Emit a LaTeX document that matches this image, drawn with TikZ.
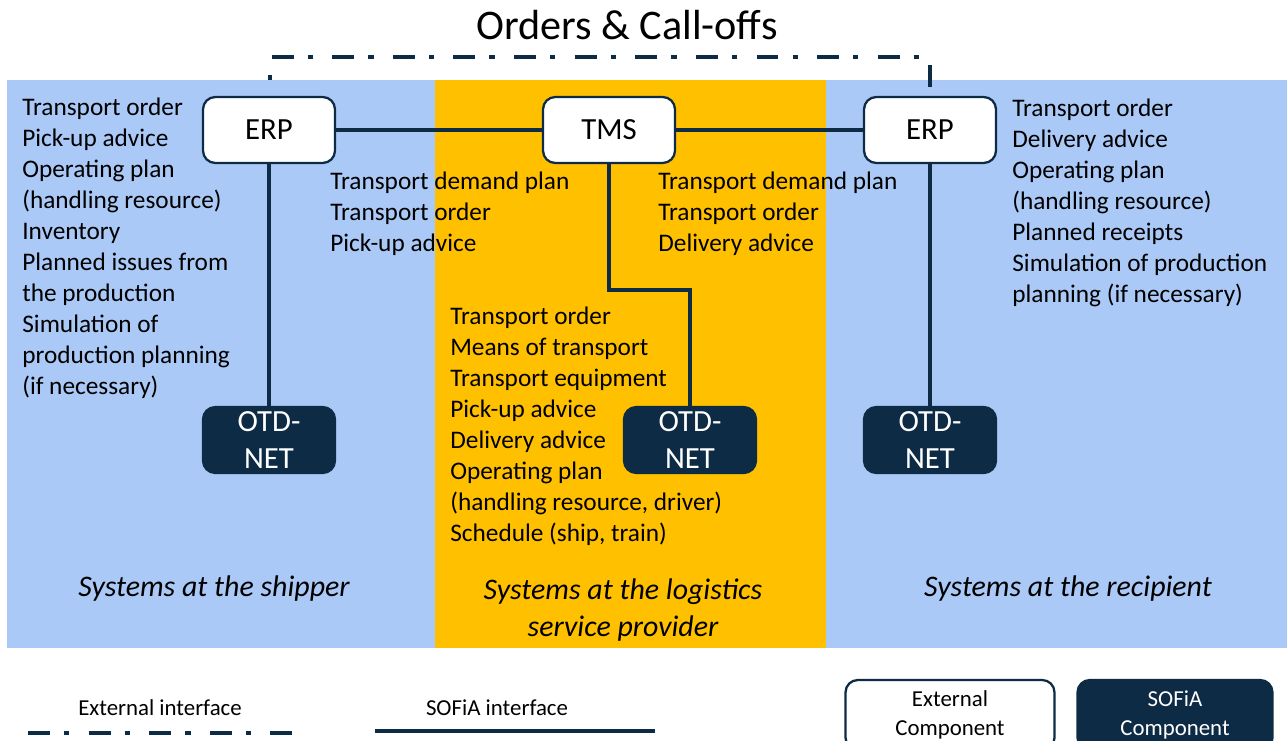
\documentclass[tikz,border=0pt]{standalone}
\usepackage{fontspec}
\setmainfont{Carlito}
\usetikzlibrary{positioning}
\definecolor{CNavy}{HTML}{0D2B45}
\definecolor{CSky}{HTML}{ABC9F6}
\definecolor{CAmber}{HTML}{FFC000}

\begin{document}
\begin{tikzpicture}[x=0.02cm, y=-0.02cm,
    extbox/.style={draw=CNavy, line width=1.3pt, fill=white, rounded corners=7pt, minimum width=2.64cm, minimum height=1.32cm, inner sep=0pt, align=center, font=\fontsize{17.5}{21}\selectfont},
    sofbox/.style={extbox, fill=CNavy, text=white},
    sofia/.style={draw=CNavy, line width=2.8pt},
    extlink/.style={draw=CNavy, line width=2.8pt, dash pattern=on 12.5pt off 8pt on 3pt off 11pt},
    infolist/.style={anchor=north west, inner sep=0pt, align=left, font=\fontsize{14.4}{17.6}\selectfont},
    sysname/.style={align=center, font=\fontsize{17}{21}\selectfont\itshape},
    legendtxt/.style={font=\fontsize{13}{16.5}\selectfont}]
    \useasboundingbox (0,0) rectangle (1287,740);

    % Panels
    \fill[CSky] (7,80) rectangle (435,648);
    \fill[CAmber] (435,80) rectangle (826,648);
    \fill[CSky] (826,80) rectangle (1287,648);

    \node[font=\fontsize{24}{28}\selectfont] (title) at (627,25) {Orders \& Call-offs};

    % Components
    \node[extbox] (erpL) at (269,130) {ERP};
    \node[extbox] (tms) at (609,130) {TMS};
    \node[extbox] (erpR) at (930,130) {ERP};
    \node[sofbox] (otdL) at (269,440) {OTD-\\NET};
    \node[sofbox] (otdM) at (690,440) {OTD-\\NET};
    \node[sofbox] (otdR) at (930,440) {OTD-\\NET};

    % Interfaces
    \coordinate (extStub) at (270,80);
    \coordinate (extTop) at (270,57);
    \draw[extlink, dash phase=20.5pt] (extStub) -- (extTop) -| (erpR.north);
    \draw[sofia] (erpL.east) -- (tms.west);
    \draw[sofia] (tms.east) -- (erpR.west);
    \draw[sofia] (erpL.south) -- (otdL.north);
    \draw[sofia] (erpR.south) -- (otdR.north);
    \coordinate (tmsBend) at (690,290);
    \draw[sofia] (tms.south) |- (tmsBend) -- (otdM.north);

    % Data lists
    \node[infolist] (shipperInfo) at (22,98) {Transport order\\Pick-up advice\\Operating plan\\(handling resource)\\Inventory\\Planned issues from\\the production\\Simulation of\\production planning\\(if necessary)};
    \node[infolist] (toShipper) at (330,172) {Transport demand plan\\Transport order\\Pick-up advice};
    \node[infolist] (toRecipient) at (658,172) {Transport demand plan\\Transport order\\Delivery advice};
    \node[infolist] (lspInfo) at (450,307) {Transport order\\Means of transport\\Transport equipment\\Pick-up advice\\Delivery advice\\Operating plan\\(handling resource, driver)\\Schedule (ship, train)};
    \node[infolist] (recipientInfo) at (1012,99) {Transport order\\Delivery advice\\Operating plan\\(handling resource)\\Planned receipts\\Simulation of production\\planning (if necessary)};

    % Systems
    \node[sysname] (shipper) at (214,589) {Systems at the shipper};
    \node[sysname] (lsp) at (623,610) {Systems at the logistics\\service provider};
    \node[sysname] (recipient) at (1068,589) {Systems at the recipient};

    % Legend
    \node[legendtxt] (lblExt) at (160,708) {External interface};
    \coordinate (extA) at (28,733);
    \coordinate (extB) at (297,733);
    \draw[extlink] (extA) -- (extB);
    \node[legendtxt] (lblSof) at (497,708) {SOFiA interface};
    \coordinate (sofA) at (375,731);
    \coordinate (sofB) at (655,731);
    \draw[sofia] (sofA) -- (sofB);
    \node[extbox, minimum width=4.18cm, minimum height=1.4cm, font=\fontsize{13}{16.5}\selectfont] (keyExt) at (950,715) {External\\Component};
    \node[sofbox, minimum width=3.9cm, minimum height=1.4cm, font=\fontsize{13}{16.5}\selectfont] (keySof) at (1175,715) {SOFiA\\Component};
\end{tikzpicture}
\end{document}
